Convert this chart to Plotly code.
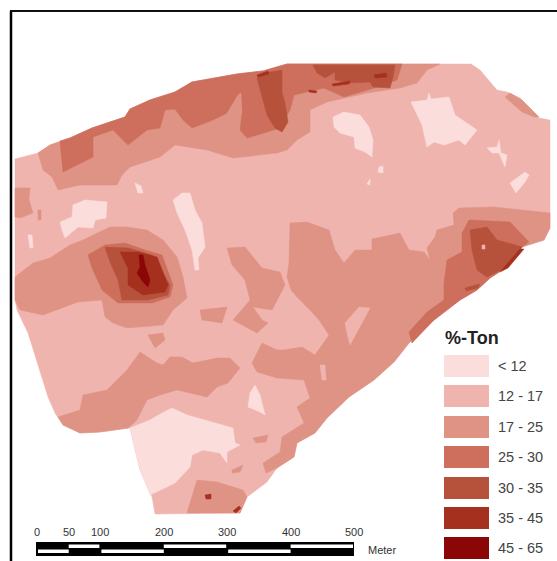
import plotly.graph_objects as go

CLASS_LABELS = ["< 12", "12 - 17", "17 - 25", "25 - 30", "30 - 35", "35 - 45", "45 - 65"]
CLASS_COLORS = ["#FBDEDC", "#F0B4AF", "#DF9384", "#CD6F5C", "#B6513B", "#A5301E", "#8B0606"]
SCALE_TICKS = [0, 50, 100, 200, 300, 400, 500]
SCALE_TOP_WHITE = [(50, 100), (200, 300), (400, 500)]
SCALE_BOTTOM_WHITE = [(0, 50), (100, 200), (300, 400)]

# Map regions, in map units (east, south)
FIELD = [(15,159),(38,153),(50,145),(70,138),(92,128),(125,117),(130,109),(150,100),(175,92),(192,82),(237,74),(263,71),(287,64),(471,64),(480,70),(497,90),(507,92),(520,98),(539,118),(550,120),(550,228),(544,240),(522,247),(507,267),(490,278),(477,290),(460,300),(434,320),(409,343),(394,362),(374,380),(349,397),(327,418),(315,433),(297,443),(294,457),(277,468),(267,482),(247,497),(240,513),(155,514),(152,497),(140,470),(130,428),(100,432),(80,433),(63,425),(55,413),(48,397),(40,372),(28,333),(17,310),(15,300)]

C17_TOP = [(38,153),(43,170),(52,177),(58,190),(80,185),(117,185),(122,175),(130,167),(160,157),(175,145),(207,150),(233,158),(277,153),(287,150),(297,140),(310,132),(310,110),(327,102),(367,93),(400,88),(417,83),(427,70),(440,64),(287,64),(263,71),(237,74),(192,82),(175,92),(150,100),(130,109),(125,117),(92,128),(70,138),(50,145)]
C17_LEFT_PATCH = [(15,188),(30,188),(29,200),(33,213),(20,218),(15,217)]
C17_LEFT_SPECK = [(38,210),(41,210),(41,220),(38,220)]
C17_NE_STRIP = [(505,97),(510,93),(522,100),(539,117),(534,117),(522,112)]
C17_BLOB = [(15,277),(33,263),(50,258),(70,245),(83,240),(110,227),(127,227),(147,230),(163,240),(177,257),(183,277),(187,298),(173,310),(163,325),(127,328),(113,323),(105,317),(102,300),(78,302),(43,315),(20,310),(15,300)]
C17_SOUTH_BAND = [(58,417),(80,410),(83,395),(107,390),(127,370),(140,352),(157,363),(163,365),(170,357),(182,357),(193,363),(217,358),(230,358),(240,368),(228,383),(217,387),(207,397),(177,390),(160,395),(147,400),(137,420),(128,428),(100,432),(80,433),(63,425)]
C17_SMALL_A = [(148,335),(163,333),(165,340),(155,348)]
C17_SMALL_B = [(200,310),(227,307),(222,323),(202,320)]
C17_CENTER_A = [(227,248),(245,247),(262,268),(280,272),(285,285),(272,310),(253,307),(262,320),(268,323),(257,333),(233,320),(250,300),(245,280),(232,265)]
C17_EAST = [(290,223),(307,222),(329,230),(335,250),(344,263),(355,250),(372,250),(372,239),(400,233),(409,250),(424,252),(430,260),(427,248),(435,237),(437,230),(454,225),(453,213),(459,208),(494,207),(550,213),(550,228),(544,240),(522,247),(507,267),(490,278),(477,290),(460,300),(434,320),(409,343),(394,362),(374,380),(349,397),(327,418),(315,433),(297,443),(294,457),(277,468),(266,473),(263,463),(280,452),(282,437),(304,423),(297,407),(310,398),(304,380),(277,378),(257,372),(252,363),(262,343),(277,350),(284,350),(302,347),(315,355),(329,335),(319,320),(310,310),(297,297),(291,290),(287,277),(289,263)]
C17_SOUTH = [(187,513),(197,480),(217,482),(243,490),(247,497),(240,513)]
C17_SPECK_A = [(253,438),(268,435),(266,442),(256,443)]
C17_SPECK_B = [(232,470),(243,465),(240,472),(232,473)]

C25_TOP = [(60,141),(63,172),(93,157),(93,137),(113,130),(128,145),(147,130),(160,128),(165,110),(175,109),(183,120),(192,128),(213,120),(227,113),(238,95),(235,85),(242,113),(240,130),(247,138),(280,128),(290,110),(294,95),(324,88),(344,97),(374,88),(397,80),(402,64),(287,64),(263,71),(237,74),(192,82),(175,92),(150,100),(130,109),(125,117),(92,128),(70,138)]
C25_BLOB = [(88,255),(105,245),(125,243),(145,250),(162,255),(173,285),(170,297),(152,303),(118,303),(102,290),(92,268)]
C25_SE = [(469,220),(510,222),(529,242),(522,247),(507,267),(490,278),(477,290),(460,300),(434,320),(412,343),(409,332),(427,312),(444,300),(444,283),(447,260),(462,252),(462,233)]

C30_TOP_MID = [(257,78),(265,73),(282,70),(282,93),(285,103),(288,122),(282,132),(275,128),(267,115)]
C30_TOP_EAST = [(313,65),(395,65),(393,77),(390,88),(373,87),(370,82),(350,83),(335,80),(335,72),(325,78),(317,73)]
C30_BLOB = [(105,247),(128,248),(152,255),(170,285),(168,295),(148,300),(122,300),(118,280),(110,262)]
C30_SE = [(470,230),(487,227),(497,240),(522,247),(507,267),(487,277),(477,270),(472,250)]
C30_SPECK = [(465,288),(480,284),(478,288),(466,291)]

C35_TOP_A = [(257,75),(268,71),(269,74),(258,77)]
C35_TOP_B = [(309,90),(317,91),(316,93),(309,92)]
C35_TOP_C = [(332,84),(350,81),(349,84),(333,86)]
C35_TOP_D = [(374,75),(386,73),(387,77),(375,78)]
C35_BLOB = [(120,252),(138,252),(157,257),(168,285),(165,292),(143,295),(128,285),(128,268)]
C35_SE = [(500,272),(520,249),(524,249),(508,268)]
C35_SOUTH = [(205,495),(211,494),(211,499),(206,499)]
C35_SOUTH_B = [(233,511),(239,506),(241,508),(236,513)]

C45_BLOB = [(139,255),(143,255),(145,265),(150,280),(148,287),(143,282),(137,273),(140,267)]

C12_WEST = [(60,222),(72,217),(73,205),(85,200),(107,202),(106,218),(95,220),(93,228),(78,227),(65,238),(62,230)]
C12_SLIVER = [(173,200),(182,193),(190,193),(195,210),(202,223),(205,247),(198,258),(199,270),(195,270),(192,250),(185,230),(177,213)]
C12_SMALL_A = [(135,183),(141,186),(143,193),(138,193)]
C12_SMALL_B = [(28,235),(32,235),(33,248),(30,248)]
C12_NORTH_A = [(333,117),(344,112),(360,115),(369,127),(373,140),(372,157),(365,152),(355,148),(354,137),(340,133),(334,127)]
C12_NORTH_B = [(411,102),(427,100),(429,93),(431,99),(449,97),(455,115),(477,130),(465,145),(459,140),(444,145),(434,142),(427,147),(422,125),(417,115)]
C12_NE_A = [(487,148),(497,147),(499,140),(501,153),(507,155),(505,167),(499,153),(492,153)]
C12_NE_B = [(510,183),(525,172),(529,175),(525,182),(516,193)]
C12_TINY_A = [(379,167),(383,166),(383,173),(378,172)]
C12_TINY_B = [(367,184),(370,179),(370,185)]
C12_SOUTH = [(130,428),(150,420),(162,413),(172,408),(187,415),(213,422),(233,428),(235,443),(240,445),(227,452),(227,463),(220,453),(203,450),(192,455),(190,467),(175,483),(150,495),(140,470)]
C12_EAST_SOUTH = [(250,393),(255,385),(260,395),(265,415),(260,412),(248,407)]

C12_17_OVER_A = [(345,323),(359,307),(370,308),(357,333),(350,345),(347,333)]
C12_17_OVER_B = [(320,365),(325,365),(326,380),(322,380)]
C12_17_OVER_C = [(482,245),(485,245),(485,249),(482,249)]
C17_WEDGE = [(238,95),(241,93),(242,113),(230,125),(222,122)]

LAYERS = [
    (1, [FIELD]),
    (2, [C17_TOP, C17_LEFT_PATCH, C17_LEFT_SPECK, C17_NE_STRIP, C17_BLOB, C17_SOUTH_BAND, C17_SMALL_A, C17_SMALL_B,
         C17_CENTER_A, C17_EAST, C17_SOUTH, C17_SPECK_A, C17_SPECK_B]),
    (3, [C25_TOP, C25_BLOB, C25_SE]),
    (4, [C30_TOP_MID, C30_TOP_EAST, C30_BLOB, C30_SE, C30_SPECK]),
    (5, [C35_TOP_A, C35_TOP_B, C35_TOP_C, C35_TOP_D, C35_BLOB, C35_SE, C35_SOUTH, C35_SOUTH_B]),
    (6, [C45_BLOB]),
    (0, [C12_WEST, C12_SLIVER, C12_SMALL_A, C12_SMALL_B, C12_NORTH_A, C12_NORTH_B, C12_NE_A, C12_NE_B,
         C12_TINY_A, C12_TINY_B, C12_SOUTH, C12_EAST_SOUTH]),
    (1, [C12_17_OVER_A, C12_17_OVER_B, C12_17_OVER_C]),
    (2, [C17_WEDGE]),
]

fig = go.Figure()
for cls, polys in LAYERS:
    xs, ys = [], []
    for p in polys:
        xs += [v[0] for v in p] + [p[0][0], None]
        ys += [v[1] for v in p] + [p[0][1], None]
    fig.add_trace(go.Scatter(x=xs, y=ys, mode="lines", fill="toself", fillcolor=CLASS_COLORS[cls],
                             line=dict(color=CLASS_COLORS[cls], width=0.5), hoverinfo="skip", showlegend=False))

FONT = "Liberation Sans"
shapes = [
    dict(type="line", x0=11, x1=11, y0=11, y1=561, line=dict(color="#000", width=2.5)),
    dict(type="line", x0=10, x1=557, y0=11, y1=11, line=dict(color="#111", width=2)),
]
def sx(m):
    return 37 + m * 0.634
shapes.append(dict(type="rect", x0=sx(0)-1, x1=sx(500), y0=542, y1=556, fillcolor="#000", line=dict(width=0)))
for a, b in SCALE_TOP_WHITE:
    shapes.append(dict(type="rect", x0=sx(a), x1=sx(b)-1, y0=544.5, y1=548, fillcolor="#fff", line=dict(width=0)))
for a, b in SCALE_BOTTOM_WHITE:
    shapes.append(dict(type="rect", x0=sx(a)+1, x1=sx(b), y0=549.5, y1=553, fillcolor="#fff", line=dict(width=0)))

ann = [dict(x=sx(m), y=532, text=str(m), showarrow=False, font=dict(family=FONT, size=11, color="#333"),
            xanchor="center", yanchor="middle") for m in SCALE_TICKS]
ann.append(dict(x=366, y=550, text="Meter", showarrow=False, font=dict(family=FONT, size=11, color="#333"),
                xanchor="left", yanchor="middle"))
ann.append(dict(x=443, y=338, text="<b>%-Ton</b>", showarrow=False, font=dict(family=FONT, size=18, color="#222"),
                xanchor="left", yanchor="middle"))
SW_TOPS = [355, 385, 416, 446, 477, 507, 537]
for top, lab, col in zip(SW_TOPS, CLASS_LABELS, CLASS_COLORS):
    shapes.append(dict(type="rect", x0=444, x1=489, y0=top, y1=top+22, fillcolor=col, line=dict(width=0)))
    ann.append(dict(x=496, y=top+11, text=lab, showarrow=False, font=dict(family=FONT, size=14.5, color="#444"),
                    xanchor="left", yanchor="middle"))

fig.update_layout(width=557, height=561, margin=dict(l=0, r=0, t=0, b=0), paper_bgcolor="#fff", plot_bgcolor="#fff",
                  xaxis=dict(range=[0, 557], visible=False), yaxis=dict(range=[561, 0], visible=False),
                  shapes=shapes, annotations=ann, showlegend=False)
fig.write_html("out.html", config={"displayModeBar": False},
               default_width="557px", default_height="561px",
               post_script="document.body.style.margin='0';")
